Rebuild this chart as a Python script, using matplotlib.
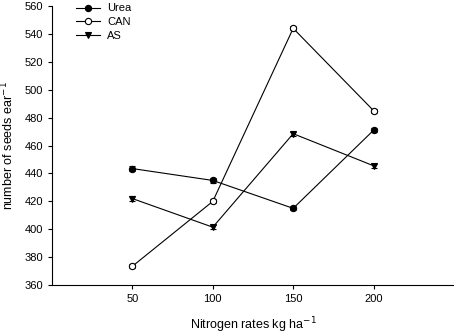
import matplotlib
matplotlib.use("Agg")
import matplotlib.pyplot as plt

plt.rcParams['font.family'] = ['Liberation Sans', 'DejaVu Sans']

rates = [50, 100, 150, 200]
urea = [443.5, 435, 415, 471]
can = [373.5, 420, 544, 485]
as_ = [422, 401.5, 468.5, 445.5]
urea_err = [1.5, 1.5, 1.5, 1.5]
can_err = [1.5, 1.5, 1.5, 1.5]
as_err = [1.5, 1.5, 1.5, 1.5]
yticks = [360, 380, 400, 420, 440, 460, 480, 500, 520, 540, 560]

fig = plt.figure(figsize=(4.54, 3.35), dpi=100)
ax = fig.add_axes([0.1145, 0.149, 0.8855, 0.833])

common = dict(color='black', lw=0.8, ms=4.5, capsize=2, elinewidth=0.7, ecolor='black', mew=0.8)
ax.errorbar(rates, urea, yerr=urea_err, marker='o', mfc='black', mec='black', label='Urea', **common)
ax.errorbar(rates, can, yerr=can_err, marker='o', mfc='white', mec='black', label='CAN', **common)
ax.errorbar(rates, as_, yerr=as_err, marker='v', mfc='black', mec='black', label='AS', **common)

ax.set_xlim(0, 250)
ax.set_ylim(360, 560)
ax.set_xticks(rates)
ax.set_yticks(yticks)
ax.spines['top'].set_visible(False)
ax.spines['right'].set_visible(False)
ax.tick_params(labelsize=8, direction='out', length=3)
ax.set_xlabel('Nitrogen rates kg ha$^{-1}$', fontsize=9, labelpad=8)
ax.set_ylabel('number of seeds ear$^{-1}$', fontsize=9, labelpad=6)

handles, labels = ax.get_legend_handles_labels()
handles = [h[0] for h in handles]
ax.legend(handles, labels, loc='upper left', bbox_to_anchor=(0.035, 1.045), frameon=False,
          fontsize=8, handlelength=2.2, handletextpad=0.6, labelspacing=0.35, markerscale=1.0)

fig.savefig('out.png', dpi=100)
